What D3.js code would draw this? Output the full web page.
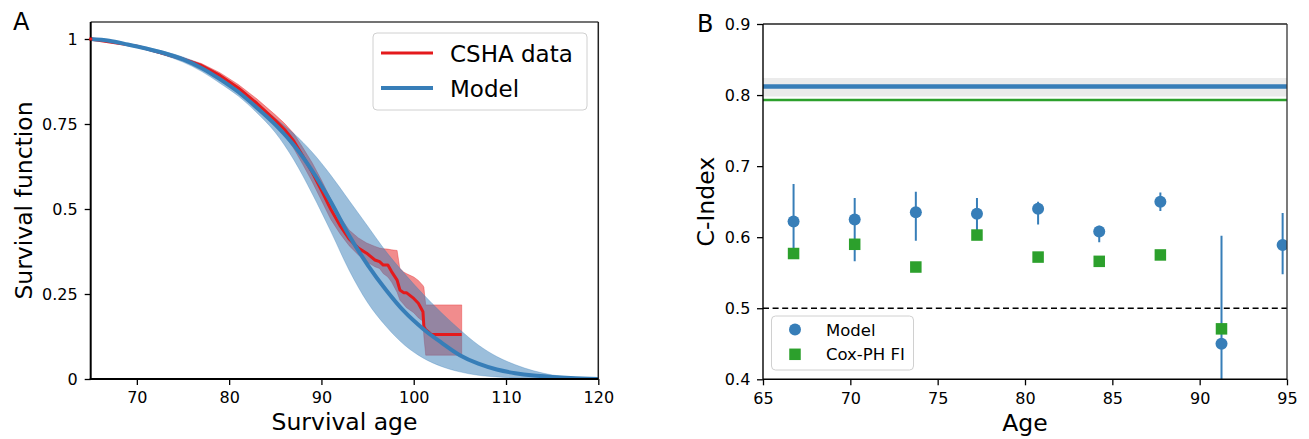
<!DOCTYPE html>
<html>
<head>
<meta charset="utf-8">
<title>survival_cindex</title>
<script src="https://cdn.jsdelivr.net/npm/d3@7/dist/d3.min.js"></script>
<style>
  body { margin: 0; background: #fff; }
  svg text { font-family: "DejaVu Sans", sans-serif; fill: #000; }
  .tick text { font-size: 16px; }
  .tick line { stroke: #000; stroke-width: 1.3px; }
  .axis-label { font-size: 23.5px; }
  .panel-label { font-size: 24px; }
  .legend-box { fill: #fff; fill-opacity: 0.8; stroke: #d0d0d0; stroke-width: 1px; }
</style>
</head>
<body>
<div id="chart"></div>
<script>
// ---- panel A : survival curves ----
var modelAge = [65, 67, 69, 71, 73, 75, 77, 79, 81, 83, 85, 87, 89, 91, 93, 95, 97, 99, 101, 103, 105, 107, 109, 111, 113, 115, 117, 120];
var modelS   = [1.0, 0.995, 0.984, 0.972, 0.958, 0.940, 0.915, 0.882, 0.844, 0.798, 0.748, 0.688, 0.612, 0.522, 0.422, 0.336, 0.262, 0.198, 0.148, 0.107, 0.070, 0.045, 0.028, 0.017, 0.010, 0.006, 0.003, 0.0];
var modelLoA = [1.0, 0.994, 0.982, 0.968, 0.952, 0.932, 0.905, 0.870, 0.832, 0.783, 0.725, 0.645, 0.545, 0.435, 0.320, 0.225, 0.155, 0.100, 0.062, 0.037, 0.021, 0.011, 0.006, 0.003, 0.002, 0.001, 0.0005, 0.0];
var modelHiA = [1.0, 0.996, 0.987, 0.976, 0.963, 0.947, 0.925, 0.895, 0.856, 0.812, 0.767, 0.722, 0.667, 0.600, 0.525, 0.450, 0.375, 0.310, 0.250, 0.195, 0.145, 0.100, 0.066, 0.042, 0.024, 0.012, 0.005, 0.001];

var cshaAge = [64.9, 70, 75, 77, 79, 81, 83, 85, 86, 87, 88, 89, 90, 91, 92, 93, 94, 94.9, 95.8, 96.3, 96.7, 97.2, 97.6, 98.2, 98.5, 98.9, 99.2, 100.0, 100.5, 101.0, 101.1, 101.3, 101.9, 105.2];
var cshaS   = [1.0, 0.979, 0.941, 0.922, 0.893, 0.856, 0.811, 0.761, 0.734, 0.700, 0.655, 0.608, 0.555, 0.500, 0.452, 0.412, 0.385, 0.370, 0.350, 0.345, 0.335, 0.335, 0.316, 0.291, 0.262, 0.254, 0.254, 0.237, 0.223, 0.198, 0.154, 0.145, 0.131, 0.131];
var cshaLo  = [1.0, 0.977, 0.937, 0.916, 0.885, 0.846, 0.799, 0.746, 0.717, 0.678, 0.630, 0.580, 0.525, 0.470, 0.428, 0.392, 0.365, 0.345, 0.330, 0.325, 0.310, 0.300, 0.285, 0.255, 0.232, 0.220, 0.210, 0.195, 0.180, 0.170, 0.125, 0.070, 0.070, 0.070];
var cshaHi  = [1.0, 0.981, 0.945, 0.928, 0.901, 0.866, 0.824, 0.777, 0.752, 0.722, 0.680, 0.636, 0.585, 0.530, 0.478, 0.438, 0.415, 0.400, 0.390, 0.385, 0.383, 0.382, 0.380, 0.378, 0.325, 0.315, 0.310, 0.300, 0.290, 0.275, 0.270, 0.218, 0.218, 0.218];

var aXTicks = [70, 80, 90, 100, 110, 120];
var aYTicks = [0, 0.25, 0.5, 0.75, 1];
var aLegend = ["CSHA data", "Model"];

// ---- panel B : C-index by age ----
var binAge  = [66.75, 70.25, 73.75, 77.25, 80.75, 84.25, 87.75, 91.25, 94.75];
var modelC  = [0.622, 0.625, 0.635, 0.633, 0.640, 0.608, 0.650, 0.450, 0.589];
var modelLo = [0.577, 0.566, 0.595, 0.605, 0.618, 0.593, 0.637, 0.300, 0.548];
var modelHi = [0.675, 0.655, 0.664, 0.655, 0.650, 0.616, 0.663, 0.602, 0.634];
var coxC    = [0.577, 0.590, 0.558, 0.603, 0.572, 0.566, 0.575, 0.471, null];
var overallModel = [0.798, 0.812, 0.824];  // lo, mean, hi
var overallCox = 0.793;
var chance = 0.5;
var bXTicks = [65, 70, 75, 80, 85, 90, 95];
var bYTicks = [0.4, 0.5, 0.6, 0.7, 0.8, 0.9];
var bLegend = ["Model", "Cox-PH FI"];

var blue = "#377eb8", red = "#e41a1c", green = "#2ca02c";

var width = 1309, height = 439;
var svg = d3.select("#chart").append("svg")
    .attr("width", width)
    .attr("height", height);

var defs = svg.append("defs");

// ================= panel A =================
var xa = d3.scaleLinear().domain([65, 120]).range([90.7, 598.3]);
var ya = d3.scaleLinear().domain([0, 1.05]).range([379, 22]);

defs.append("clipPath").attr("id", "clipA").append("rect")
    .attr("x", xa.range()[0] - 2).attr("y", ya.range()[1])
    .attr("width", xa.range()[1] - xa.range()[0] + 2)
    .attr("height", ya.range()[0] - ya.range()[1]);

var gA = svg.append("g");
var plotA = gA.append("g").attr("clip-path", "url(#clipA)");

var cshaRows = cshaAge.map(function(a, i){ return {a: a, s: cshaS[i], lo: cshaLo[i], hi: cshaHi[i]}; });
var modelRows = modelAge.map(function(a, i){ return {a: a, s: modelS[i], lo: modelLoA[i], hi: modelHiA[i]}; });

plotA.append("path")
    .datum(cshaRows)
    .attr("d", d3.area().x(function(d){ return xa(d.a); }).y0(function(d){ return ya(d.lo); }).y1(function(d){ return ya(d.hi); }))
    .attr("fill", red).attr("fill-opacity", 0.5)
    .attr("stroke", red).attr("stroke-opacity", 0.35).attr("stroke-width", 1);

plotA.append("path")
    .datum(modelRows)
    .attr("d", d3.area().curve(d3.curveMonotoneX).x(function(d){ return xa(d.a); }).y0(function(d){ return ya(d.lo); }).y1(function(d){ return ya(d.hi); }))
    .attr("fill", blue).attr("fill-opacity", 0.5)
    .attr("stroke", blue).attr("stroke-opacity", 0.3).attr("stroke-width", 1);

plotA.append("path")
    .datum(cshaRows)
    .attr("d", d3.line().x(function(d){ return xa(d.a); }).y(function(d){ return ya(d.s); }))
    .attr("fill", "none").attr("stroke", red).attr("stroke-width", 3).attr("stroke-linejoin", "round");

plotA.append("path")
    .datum(modelRows)
    .attr("d", d3.line().curve(d3.curveMonotoneX).x(function(d){ return xa(d.a); }).y(function(d){ return ya(d.s); }))
    .attr("fill", "none").attr("stroke", blue).attr("stroke-width", 4);

gA.append("g")
    .attr("transform", "translate(0," + ya(0) + ")")
    .call(d3.axisBottom(xa).tickValues(aXTicks).tickSize(6).tickPadding(7).tickFormat(d3.format("d")))
    .call(function(g){ g.select(".domain").remove(); });

gA.append("g")
    .attr("transform", "translate(" + xa(65) + ",0)")
    .call(d3.axisLeft(ya).tickValues(aYTicks).tickSize(6).tickPadding(7).tickFormat(function(d){ return String(d); }))
    .call(function(g){ g.select(".domain").remove(); });

// spines
gA.append("line").attr("x1", xa(65)).attr("x2", xa(120)).attr("y1", ya(1.05)).attr("y2", ya(1.05)).attr("stroke", "#444").attr("stroke-width", 1.5);
gA.append("line").attr("x1", xa(120)).attr("x2", xa(120)).attr("y1", ya(1.05)).attr("y2", ya(0)).attr("stroke", "#222").attr("stroke-width", 1.5);
gA.append("line").attr("x1", xa(65)).attr("x2", xa(65)).attr("y1", ya(1.05)).attr("y2", ya(0) + 1).attr("stroke", "#000").attr("stroke-width", 2);
gA.append("line").attr("x1", xa(65) - 1).attr("x2", xa(120)).attr("y1", ya(0)).attr("y2", ya(0)).attr("stroke", "#000").attr("stroke-width", 2);

// little red start mark on the left spine
gA.append("rect").attr("x", xa(65) - 1.5).attr("y", ya(1) - 1.5).attr("width", 3).attr("height", 3).attr("fill", red);

gA.append("text").attr("class", "axis-label")
    .attr("x", (xa(65) + xa(120)) / 2).attr("y", 430)
    .attr("text-anchor", "middle").text("Survival age");
gA.append("text").attr("class", "axis-label")
    .attr("transform", "translate(32," + (ya(0) + ya(1.05)) / 2 + ") rotate(-90)")
    .attr("text-anchor", "middle").text("Survival function");
gA.append("text").attr("class", "panel-label")
    .attr("x", 13).attr("y", 30).text("A");

// legend A
var legA = gA.append("g");
legA.append("rect").attr("class", "legend-box")
    .attr("x", 373).attr("y", 33).attr("width", 214).attr("height", 77).attr("rx", 4);
legA.selectAll(".leg-line").data(aLegend).enter().append("line")
    .attr("x1", 381).attr("x2", 433)
    .attr("y1", function(d, i){ return 53 + i * 35; })
    .attr("y2", function(d, i){ return 53 + i * 35; })
    .attr("stroke", function(d, i){ return i === 0 ? red : blue; })
    .attr("stroke-width", function(d, i){ return i === 0 ? 3 : 4; });
legA.selectAll(".leg-text").data(aLegend).enter().append("text")
    .attr("x", 450)
    .attr("y", function(d, i){ return 61.5 + i * 35; })
    .style("font-size", "23px")
    .text(function(d){ return d; });

// ================= panel B =================
var xb = d3.scaleLinear().domain([65, 95]).range([763, 1287]);
var yb = d3.scaleLinear().domain([0.4, 0.9]).range([379.3, 24]);

defs.append("clipPath").attr("id", "clipB").append("rect")
    .attr("x", xb.range()[0]).attr("y", yb.range()[1])
    .attr("width", xb.range()[1] - xb.range()[0])
    .attr("height", yb.range()[0] - yb.range()[1]);

var gB = svg.append("g");
var plotB = gB.append("g").attr("clip-path", "url(#clipB)");

plotB.append("rect")
    .attr("x", xb(65)).attr("width", xb(95) - xb(65))
    .attr("y", yb(overallModel[2])).attr("height", yb(overallModel[0]) - yb(overallModel[2]))
    .attr("fill", "#ebebeb");
plotB.append("line")
    .attr("x1", xb(65)).attr("x2", xb(95))
    .attr("y1", yb(overallModel[1])).attr("y2", yb(overallModel[1]))
    .attr("stroke", blue).attr("stroke-width", 4.5);
plotB.append("line")
    .attr("x1", xb(65)).attr("x2", xb(95))
    .attr("y1", yb(overallCox)).attr("y2", yb(overallCox))
    .attr("stroke", green).attr("stroke-width", 2.5);
plotB.append("line")
    .attr("x1", xb(65)).attr("x2", xb(95))
    .attr("y1", yb(chance)).attr("y2", yb(chance))
    .attr("stroke", "#000").attr("stroke-width", 1.4).attr("stroke-dasharray", "6,3.6");

var bRows = binAge.map(function(a, i){ return {a: a, c: modelC[i], lo: modelLo[i], hi: modelHi[i], cox: coxC[i]}; });

plotB.selectAll(".err").data(bRows).enter().append("line")
    .attr("x1", function(d){ return xb(d.a); }).attr("x2", function(d){ return xb(d.a); })
    .attr("y1", function(d){ return yb(d.lo); }).attr("y2", function(d){ return yb(d.hi); })
    .attr("stroke", blue).attr("stroke-width", 2);
plotB.selectAll(".dot").data(bRows).enter().append("circle")
    .attr("cx", function(d){ return xb(d.a); })
    .attr("cy", function(d){ return yb(d.c); })
    .attr("r", 6).attr("fill", blue);
var sq = 11.5;
plotB.selectAll(".sq").data(bRows.filter(function(d){ return d.cox !== null; })).enter().append("rect")
    .attr("x", function(d){ return xb(d.a) - sq / 2; })
    .attr("y", function(d){ return yb(d.cox) - sq / 2; })
    .attr("width", sq).attr("height", sq).attr("fill", green);

gB.append("g")
    .attr("transform", "translate(0," + yb(0.4) + ")")
    .call(d3.axisBottom(xb).tickValues(bXTicks).tickSize(6).tickPadding(7).tickFormat(d3.format("d")))
    .call(function(g){ g.select(".domain").remove(); });
gB.append("g")
    .attr("transform", "translate(" + xb(65) + ",0)")
    .call(d3.axisLeft(yb).tickValues(bYTicks).tickSize(6).tickPadding(6.7).tickFormat(d3.format(".1f")))
    .call(function(g){ g.select(".domain").remove(); });

gB.append("line").attr("x1", xb(65)).attr("x2", xb(95)).attr("y1", yb(0.9)).attr("y2", yb(0.9)).attr("stroke", "#222").attr("stroke-width", 1.3);
gB.append("line").attr("x1", xb(95)).attr("x2", xb(95)).attr("y1", yb(0.9)).attr("y2", yb(0.4)).attr("stroke", "#333").attr("stroke-width", 1.3);
gB.append("line").attr("x1", xb(65)).attr("x2", xb(65)).attr("y1", yb(0.9)).attr("y2", yb(0.4)).attr("stroke", "#000").attr("stroke-width", 1.4);
gB.append("line").attr("x1", xb(65)).attr("x2", xb(95)).attr("y1", yb(0.4)).attr("y2", yb(0.4)).attr("stroke", "#000").attr("stroke-width", 1.4);

gB.append("text").attr("class", "axis-label")
    .attr("x", (xb(65) + xb(95)) / 2).attr("y", 431)
    .attr("text-anchor", "middle").text("Age");
gB.append("text").attr("class", "axis-label")
    .attr("transform", "translate(713.5," + (yb(0.4) + yb(0.9)) / 2 + ") rotate(-90)")
    .attr("text-anchor", "middle").text("C-Index");
gB.append("text").attr("class", "panel-label")
    .attr("x", 697).attr("y", 31.7).text("B");

// legend B
var legB = gB.append("g");
legB.append("rect").attr("class", "legend-box")
    .attr("x", 771.5).attr("y", 316).attr("width", 142).attr("height", 54).attr("rx", 4);
legB.append("circle").attr("cx", 795).attr("cy", 329.6).attr("r", 6).attr("fill", blue);
legB.append("rect").attr("x", 795 - sq / 2).attr("y", 354.3 - sq / 2).attr("width", sq).attr("height", sq).attr("fill", green);
legB.selectAll(".leg-text").data(bLegend).enter().append("text")
    .attr("x", 826)
    .attr("y", function(d, i){ return 335.6 + i * 24.7; })
    .style("font-size", "16.5px")
    .text(function(d){ return d; });
</script>
</body>
</html>
